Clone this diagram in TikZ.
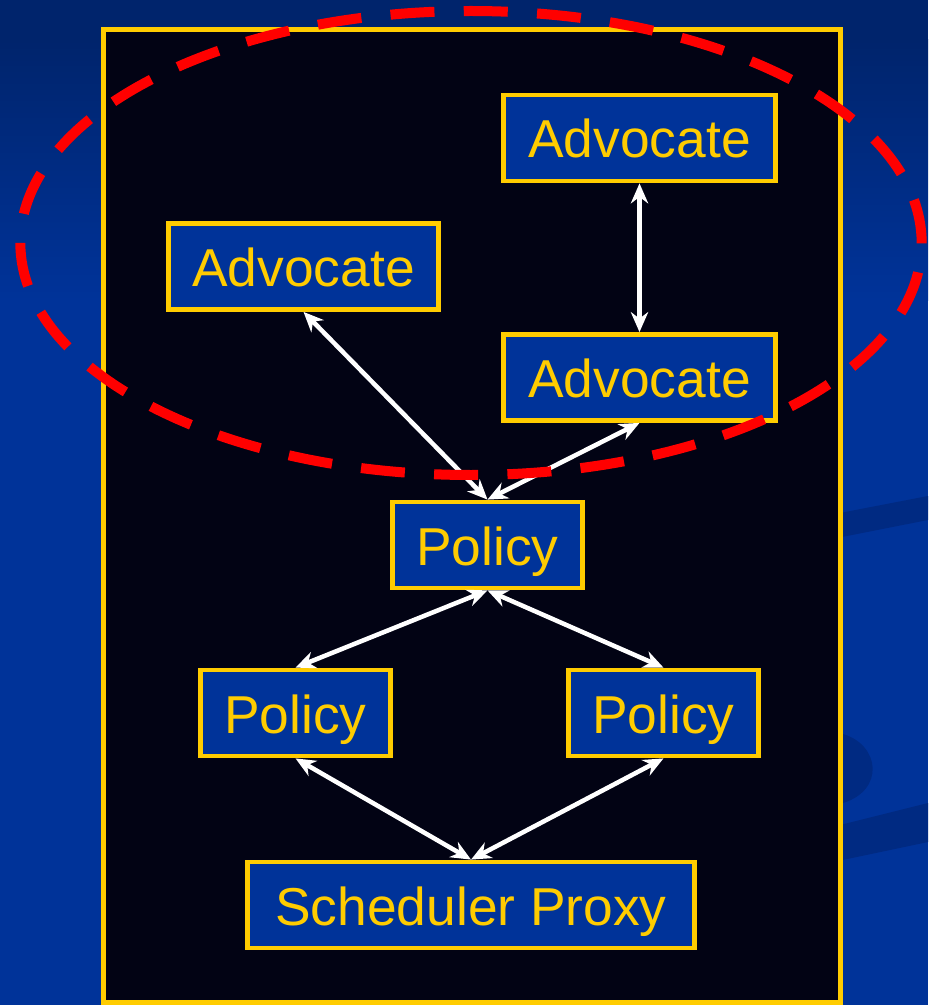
\documentclass[tikz,border=0pt]{standalone}
\usepackage{fontspec}
\setmainfont{Liberation Sans}
\usetikzlibrary{arrows.meta}
\definecolor{bgblue}{RGB}{0,51,153}
\definecolor{bgtop}{RGB}{0,36,108}
\definecolor{swoosh}{RGB}{0,42,130}
\definecolor{gold}{RGB}{255,204,0}
\definecolor{boxblue}{RGB}{0,51,153}
\definecolor{panel}{RGB}{2,3,20}
\tikzset{
  box/.style={draw=gold, fill=boxblue, line width=3.6pt, text=gold,
    inner sep=0pt, minimum height=64.5pt, text height=33pt, text depth=3pt,
    font=\fontsize{40}{46}\selectfont},
  link/.style={draw=white, line width=3.4pt,
    {Stealth[length=15pt,width=13pt]}-{Stealth[length=15pt,width=13pt]}},
  region/.style={draw=red, line width=7.5pt, dash pattern=on 33pt off 22pt}
}
\begin{document}
\begin{tikzpicture}[x=0.75pt,y=-0.75pt]
\useasboundingbox (0,0) rectangle (928,1005);
% background
\fill[bgblue] (0,300) rectangle (928,1005);
\fill[bgtop] (0,0) rectangle (928,40);
\shade[top color=bgtop, bottom color=bgblue] (0,40) rectangle (928,300);
% swooshes on the right
\fill[swoosh] (700,540) -- (928,496) -- (928,520) -- (700,565) -- cycle;
\fill[swoosh] (843,734) .. controls (880,745) and (885,790) .. (843,803) -- cycle;
\fill[swoosh] (700,860) -- (928,803) -- (928,842) -- (700,890) -- cycle;
% panel
\draw[draw=gold, fill=panel, line width=3.75pt] (103.5,29.5) rectangle (840,1002);
% nodes
\node[box, minimum width=204pt] (advT) at (639.5,138) {Advocate};
\node[box, minimum width=202pt] (advL) at (303.5,266.5) {Advocate};
\node[box, minimum width=204pt] (advM) at (639.5,377.5) {Advocate};
\node[box, minimum width=142pt] (polT) at (487.5,545) {Policy};
\node[box, minimum width=142pt] (polL) at (295.5,713) {Policy};
\node[box, minimum width=142pt] (polR) at (663.5,713) {Policy};
\node[box, minimum width=335pt] (sched) at (471,905) {Scheduler Proxy};
% connectors
\draw[link] (advT.south) -- (advM.north);
\draw[link] (advL.south) -- (polT.north);
\draw[link] (advM.south) -- (polT.north);
\draw[link] (polT.south) -- (polL.north);
\draw[link] (polT.south) -- (polR.north);
\draw[link] (polL.south) -- (sched.north);
\draw[link] (polR.south) -- (sched.north);
% dashed region
\draw[region] (471,243) ellipse [x radius=338pt, y radius=174pt];
\end{tikzpicture}
\end{document}
